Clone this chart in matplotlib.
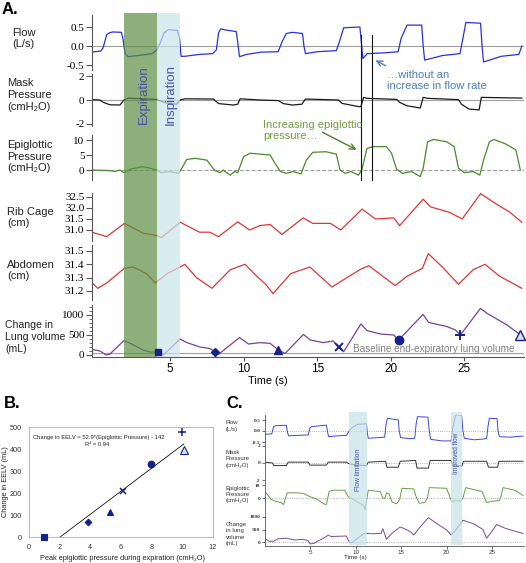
import matplotlib
matplotlib.use('Agg')
import matplotlib.pyplot as plt

# ---------------- DATA ----------------
# Panel A (time in s)
flow_t = [-0.3, 0.3, 0.45, 0.7, 0.9, 1.1, 1.7, 1.8, 1.95, 2.15, 3.0, 3.8, 4.1, 4.3, 4.6, 4.9, 5.5, 5.65, 5.75, 6.0, 7.0, 7.9,
          8.15, 8.3, 8.45, 8.8, 9.5, 9.6, 9.72, 10.2, 11.2, 12.35, 12.6, 12.9, 13.3, 14.0, 14.1, 14.2, 15.0, 16.3, 16.5,
          16.8, 17.9, 18.0, 18.1, 18.4, 19.5, 20.5, 20.7, 21.1, 22.1, 22.2, 22.3, 23.5, 24.7, 24.9, 25.1, 26.1, 26.2,
          26.3, 27.5, 28.7, 28.9]
flow_v = [-0.16, -0.13, -0.05, 0.3, 0.35, 0.37, 0.36, 0.2, -0.2, -0.28, -0.24, -0.2, -0.1, 0.05, 0.35, 0.43, 0.41, 0.2,
          -0.27, -0.27, -0.22, -0.2, -0.1, 0.35, 0.45, 0.42, 0.38, 0.1, -0.28, -0.22, -0.16, -0.15, 0.1, 0.33, 0.36, 0.33,
          0.0, -0.2, -0.15, -0.12, 0.1, 0.48, 0.5, 0.1, -0.33, -0.2, -0.18, -0.15, 0.2, 0.55, 0.55, 0.0, -0.37, -0.25,
          -0.2, 0.2, 0.62, 0.6, 0.0, -0.42, -0.27, -0.22, 0.0]
mask_t = [-0.3, 0.24, 0.47, 0.92, 1.6, 1.87, 2.16, 4.1, 4.27, 4.77, 5.45, 5.68, 6.0, 7.95, 8.3, 9.3, 9.6, 9.76, 11.12,
          12.37, 12.7, 13.3, 13.96, 14.2, 16.45, 16.68, 17.8, 17.97, 18.15, 18.38, 20.4, 20.6, 21.1, 22.0, 22.2, 22.5,
          24.6, 24.8, 25.3, 26.0, 26.15, 27.0, 28.9]
mask_v = [0.03, 0.0, -0.2, -0.4, -0.42, 0.0, 0.15, 0.05, -0.05, -0.25, -0.35, 0.0, 0.1, 0.08, -0.3, -0.42, -0.35, 0.1,
          0.0, -0.05, -0.3, -0.42, -0.35, 0.08, 0.0, -0.28, -0.55, -0.55, 0.22, 0.14, 0.05, -0.2, -0.48, -0.67, 0.22,
          0.14, 0.03, -0.35, -0.75, -0.83, 0.22, 0.2, 0.16]
epi_t = [-0.3, 0.92, 1.25, 1.6, 1.87, 2.28, 3.07, 3.4, 4.1, 4.4, 5.0, 5.57, 5.79, 6.13, 6.7, 7.5, 7.84, 8.06, 8.4, 8.6,
         9.08, 9.4, 9.6, 9.99, 10.44, 11.12, 11.8, 12.14, 12.5, 12.9, 13.36, 13.9, 14.26, 14.7, 15.6, 16.3, 16.55,
         16.9, 17.3, 17.8, 18.03, 18.38, 18.8, 19.7, 20.05, 20.4, 20.8, 21.4, 22.0, 22.2, 22.5, 22.9, 23.8, 24.3,
         24.6, 25.0, 25.6, 26.05, 26.3, 26.7, 27.0, 27.8, 28.5, 28.8]
epi_v = [0.0, -0.2, -0.5, 0.0, -0.9, 0.2, 1.1, 0.9, 0.0, -0.9, -0.5, -1.1, 0.5, 3.5, 3.9, 3.3, 1.1, -0.2, -0.9, 0.0,
         -1.7, -0.5, -0.9, 4.4, 5.6, 5.3, 5.0, 2.2, -0.5, -1.1, -0.5, -1.3, 3.3, 5.9, 6.1, 5.3, 0.0, -1.1, -0.5, -1.7,
         0.0, 7.2, 7.8, 7.8, 5.6, 0.2, -1.1, -0.5, -2.2, 0.6, 9.4, 10.2, 9.4, 7.8, 0.6, -0.9, -0.5, -1.7, 3.3, 9.4,
         10.2, 8.7, 6.7, 0.0]
rib_t = [-0.3, 0.7, 1.9, 3.2, 4.1, 4.4, 5.7, 7.0, 7.7, 8.3, 9.6, 10.4, 11.1, 11.8, 12.6, 14.05, 14.7, 15.9, 16.6,
         18.05, 18.95, 20.2, 20.6, 22.2, 22.7, 24.0, 24.85, 26.1, 27.0, 28.1, 28.9]
rib_v = [30.9, 30.7, 31.3, 30.85, 30.75, 30.65, 31.35, 30.9, 30.9, 30.7, 31.37, 31.0, 31.2, 31.25, 30.8, 31.55, 31.3,
         31.3, 31.0, 31.95, 31.5, 31.55, 31.2, 32.4, 32.05, 31.8, 31.5, 32.65, 32.25, 31.8, 31.35]
abd_t = [-0.3, 0.1, 0.7, 1.9, 2.5, 3.4, 4.0, 4.8, 5.7, 6.0, 6.8, 7.85, 9.1, 10.1, 10.9, 11.5, 12.0, 13.2, 14.5, 16.0,
         17.9, 18.5, 20.3, 21.1, 22.15, 22.55, 23.5, 24.6, 25.6, 26.4, 27.4, 28.9]
abd_v = [31.26, 31.22, 31.26, 31.37, 31.38, 31.33, 31.26, 31.33, 31.38, 31.4, 31.3, 31.22, 31.36, 31.4, 31.31, 31.25,
         31.18, 31.33, 31.38, 31.23, 31.36, 31.39, 31.24, 31.31, 31.37, 31.48, 31.38, 31.25, 31.36, 31.4, 31.31, 31.22]
lung_t = [-0.3, 0.24, 0.65, 0.92, 1.87, 2.4, 3.17, 3.63, 4.2, 4.55, 5.68, 6.14, 7.04, 7.72, 8.06, 8.29, 9.72, 10.33,
          11.12, 11.8, 12.37, 12.82, 14.07, 14.52, 15.43, 16.1, 16.45, 16.8, 17.97, 18.38, 19.3, 20.2, 20.53, 22.19,
          22.57, 23.82, 24.39, 24.73, 26.09, 26.55, 27.9, 28.81]
lung_v = [140, 100, 0, 25, 360, 275, 125, 75, 75, 0, 400, 310, 200, 160, 85, 15, 435, 275, 310, 290, 125, 40, 515, 375,
          310, 350, 190, 85, 775, 610, 525, 500, 375, 1015, 815, 710, 625, 500, 1165, 1040, 750, 500]
marker_t = [4.2, 8.06, 12.37, 16.45, 20.53, 24.73, 28.81]
marker_v = [75, 85, 125, 190, 375, 500, 500]
baseline_v = 40
expiration_span = (1.87, 4.1)
inspiration_span = (4.1, 5.7)
cursor_t = [18.0, 18.74]

# Panel B
b_x = [1.0, 3.87, 5.3, 6.1, 7.93, 10.0, 10.1]
b_y = [0, 68, 114, 209, 332, 477, 395]
trend_x = [2.03, 10.1]
trend_y = [0, 423]

# Panel C
c_flow_t = [0.0, 0.8, 1.0, 1.2, 2.4, 2.55, 2.65, 3.5, 4.8, 5.0, 5.2, 6.8, 6.95, 7.05, 8.0, 9.0, 9.3, 9.6, 10.2, 11.2,
            11.3, 11.4, 12.5, 13.2, 13.35, 13.5, 14.7, 14.8, 14.95, 16.0, 16.5, 16.65, 16.8, 17.95, 18.1, 18.25, 19.5,
            20.5, 20.7, 21.0, 21.65, 21.8, 21.95, 23.0, 24.4, 24.55, 24.7, 25.55, 25.65, 25.8, 27.0, 28.4]
c_flow_v = [-0.15, -0.13, 0.2, 0.24, 0.26, -0.1, -0.22, -0.2, -0.18, 0.15, 0.2, 0.27, -0.1, -0.26, -0.22, -0.2, 0.0,
            0.15, 0.3, 0.33, -0.1, -0.33, -0.3, -0.28, 0.3, 0.58, 0.5, 0.0, -0.3, -0.35, -0.33, 0.3, 0.65, 0.63, 0.0,
            -0.38, -0.45, -0.45, 0.2, 0.73, 0.72, 0.0, -0.33, -0.4, -0.35, 0.2, 0.58, 0.56, 0.0, -0.26, -0.28, -0.23]
c_mask_t = [0.0, 0.9, 1.0, 2.4, 2.6, 4.8, 5.0, 6.8, 7.0, 9.0, 9.3, 10.2, 11.2, 11.4, 13.3, 13.45, 14.7, 14.9, 16.6,
            16.75, 18.0, 18.2, 20.5, 20.7, 21.7, 21.85, 24.4, 24.6, 25.6, 25.75, 28.4]
c_mask_v = [0.1, 0.0, -0.3, -0.3, 0.1, 0.1, -0.25, -0.25, 0.1, 0.1, -0.1, -0.25, -0.3, 0.1, 0.2, -0.5, -0.5, 0.2, 0.3,
            -0.6, -0.6, 0.3, 0.3, -0.3, -0.35, 0.2, 0.2, -0.5, -0.5, 0.2, 0.2]
c_epi_t = [0.0, 0.3, 0.7, 1.2, 1.8, 2.1, 2.3, 2.5, 3.5, 4.3, 5.0, 5.8, 6.5, 6.8, 6.95, 7.1, 7.5, 8.8, 9.2, 10.1, 10.9,
           11.05, 11.2, 11.4, 12.0, 12.7, 13.0, 13.2, 13.4, 13.7, 14.0, 14.5, 14.85, 15.1, 16.4, 16.6, 17.0, 17.6,
           17.9, 18.1, 20.0, 20.4, 20.6, 21.0, 21.5, 21.8, 22.1, 23.9, 24.2, 24.4, 25.0, 25.8, 26.0, 26.2, 27.5, 28.4]
c_epi_v = [4.5, 3, -1, -2.5, -3.5, -5, 0, 4, 4, 3.5, 1, -1, -4.5, -5, 0, 5, 6, 6, 1, -2.5, -6, -9, -2, 6, 5.5, 5, 0,
           -0.5, 4, 3, -3, -4.5, -1, 7.5, 7, 2, -4, -3.5, 0, 8, 7.5, 0, -3, -2, -2.5, 0, 8, 5, 0, -3.5, -2.5, -2, 2, 8,
           6, 2]
c_lung_t = [0.0, 0.5, 1.0, 1.5, 2.4, 3.3, 4.2, 4.8, 5.0, 5.4, 6.8, 7.0, 7.3, 8.2, 9.0, 9.3, 9.6, 10.9, 11.3, 12.0,
            12.8, 13.0, 13.4, 14.0, 14.9, 15.2, 16.0, 16.4, 17.0, 18.0, 19.0, 20.0, 20.5, 21.0, 21.8, 23.0, 24.0,
            24.4, 25.0, 25.5, 26.5, 28.4]
c_lung_v = [150, 30, 30, 130, 150, 80, 110, 50, -75, -60, 220, 280, 220, 230, 240, 0, -30, 340, 340, 330, 350, 530,
            110, 350, 600, 560, 420, 280, 560, 975, 720, 480, 280, 480, 870, 720, 500, 150, 440, 700, 540, 340]
flow_limitation_span = (9.32, 11.3)
improved_flow_span = (20.53, 21.7)

# ---------------- FIGURE ----------------
W, H = 526, 563
plt.rcParams['font.family'] = ['Liberation Sans', 'DejaVu Sans']
fig = plt.figure(figsize=(W / 100, H / 100), dpi=100)


def ax_px(x0, y0, x1, y1):
    return fig.add_axes([x0 / W, 1 - y1 / H, (x1 - x0) / W, (y1 - y0) / H])


def ftext(x, y, s, **kw):
    return fig.text(x / W, 1 - y / H, s, **kw)


SERIF = ['Liberation Serif', 'DejaVu Serif']
SPINE = '#555555'
NAVY = '#15218a'

# ---------- Panel A ----------
A_X0, A_X1 = 92, 524
A_XLIM = (-0.3, 29.05)
a_panels = [
    dict(y=(15, 70), ylim=(-0.63, 0.816), ticks=[-0.5, 0, 0.5], tl=['-0.5', '0.0', '0.5'],
         t=flow_t, v=flow_v, c='#2633d8', ref=0, ls='-'),
    dict(y=(74, 126), ylim=(-2.17, 2.17), ticks=[-2, 0, 2], tl=['-2', '0', '2'],
         t=mask_t, v=mask_v, c='#1a1a1a', ref=0, ls='-'),
    dict(y=(135, 180), ylim=(-3.33, 11.67), ticks=[0, 5, 10], tl=['0', '5', '10'],
         t=epi_t, v=epi_v, c='#4a8a2c', ref=0, ls='--'),
    dict(y=(193, 241), ylim=(30.5, 32.68), ticks=[31.0, 31.5, 32.0, 32.5], tl=['31.0', '31.5', '32.0', '32.5'],
         t=rib_t, v=rib_v, c='#e03535', ref=None, ls='-'),
    dict(y=(245, 300), ylim=(31.132, 31.545), ticks=[31.2, 31.3, 31.4, 31.5], tl=['31.2', '31.3', '31.4', '31.5'],
         t=abd_t, v=abd_v, c='#e03535', ref=None, ls='-'),
    dict(y=(305, 357), ylim=(-50, 1250), ticks=[0, 500, 1000], tl=['0', '500', '1000'],
         t=lung_t, v=lung_v, c='#7b3f9c', ref=baseline_v, ls='-'),
]
a_axes = []
for i, p in enumerate(a_panels):
    ax = ax_px(A_X0, p['y'][0], A_X1, p['y'][1])
    ax.set_facecolor('none')
    ax.set_xlim(*A_XLIM)
    ax.set_ylim(*p['ylim'])
    if p['ref'] is not None:
        ax.axhline(p['ref'], color='#a0a0a0', lw=0.8, ls=p['ls'], zorder=1)
    ax.plot(p['t'], p['v'], color=p['c'], lw=0.9, zorder=2)
    for s in ['top', 'right']:
        ax.spines[s].set_visible(False)
    ax.spines['left'].set_color(SPINE)
    ax.spines['left'].set_linewidth(0.8)
    ax.set_yticks(p['ticks'])
    ax.set_yticklabels(p['tl'], family=SERIF, fontsize=8)
    ax.tick_params(axis='y', length=4, width=0.8, color=SPINE, pad=1.5)
    if i < len(a_panels) - 1:
        ax.spines['bottom'].set_visible(False)
        ax.set_xticks([])
    else:
        ax.spines['bottom'].set_color(SPINE)
        ax.spines['bottom'].set_linewidth(0.8)
        ax.set_xticks([5, 10, 15, 20, 25])
        ax.tick_params(axis='x', length=3, width=0.8, color=SPINE, labelsize=8.5, pad=1)
        ax.set_yticks(range(0, 1300, 100), minor=True)
        ax.tick_params(axis='y', which='minor', length=2, width=0.6, color=SPINE)
    a_axes.append(ax)

# overlay for shaded bands / cursors
ov = ax_px(A_X0, 13, A_X1, 357)
ov.set_xlim(*A_XLIM)
ov.set_ylim(0, 1)
ov.axis('off')
ov.axvspan(*expiration_span, color='#5c8e44', alpha=0.7, lw=0, zorder=1)
ov.axvspan(*inspiration_span, color='#cae4ea', alpha=0.7, lw=0, zorder=1)
ov.text(3.2, 0.762, 'Expiration', rotation=90, ha='center', va='center',
        fontsize=9.5, color='#4d4da8', zorder=3)
ov.text(5.05, 0.762, 'Inspiration', rotation=90, ha='center', va='center',
        fontsize=9.5, color='#4d4da8', zorder=3)
for ct in cursor_t:
    ov.axvline(ct, ymin=0.515, ymax=0.936, color='#111111', lw=0.8, zorder=3)

# markers on the lung volume trace (drawn above the shaded bands)
lung_ax = a_axes[-1]
mk_ax = ax_px(A_X0, 305, A_X1, 357)
mk_ax.set_xlim(*A_XLIM)
mk_ax.set_ylim(*lung_ax.get_ylim())
mk_ax.axis('off')
styles = [('s', 5, NAVY), ('D', 4.2, NAVY), ('^', 5.5, NAVY), ('x', 6, NAVY), ('o', 6, NAVY), ('+', 7, NAVY),
          ('^', 6.5, '#dde3f3')]
for (mk, ms, fc), tt, vv in zip(styles, marker_t, marker_v):
    mk_ax.plot([tt], [vv], marker=mk, ms=ms, mfc=fc, mec=NAVY, mew=1.4 if mk in 'x+' else 1.0,
               ls='none', zorder=5, clip_on=False)

# annotations
ov.annotate('', xy=(373, H - 59), xycoords='figure pixels', xytext=(388, H - 67), textcoords='figure pixels',
            arrowprops=dict(arrowstyle='->', color='#4f81bd', lw=1.0))
ftext(387, 80.5, '\u2026without an\nincrease in flow rate', fontsize=8, color='#4a7ebb', ha='left', va='center',
      linespacing=1.15)
ov.annotate('', xy=(359, H - 151), xycoords='figure pixels', xytext=(320, H - 131), textcoords='figure pixels',
            arrowprops=dict(arrowstyle='->', color='#4f7f2a', lw=1.0))
ftext(263, 130.5, 'Increasing epiglottic\npressure\u2026', fontsize=8, color='#70a03e', ha='left', va='center',
      linespacing=1.15)
ftext(353, 349, 'Baseline end-expiratory lung volume', fontsize=7.2, color='#808080', ha='left', va='center')
ftext(268, 381, 'Time (s)', fontsize=7.8, ha='center', va='center')

# left labels
lab_kw = dict(fontsize=8, ha='left', va='center', linespacing=1.2, color='#222222')
ftext(12, 38.5, 'Flow\n(L/s)', **lab_kw)
ftext(7, 95, 'Mask\nPressure\n(cmH\u2082O)', **lab_kw)
ftext(7, 156.5, 'Epiglottic\nPressure\n(cmH\u2082O)', **lab_kw)
ftext(7, 217.5, 'Rib Cage\n(cm)', **lab_kw)
ftext(7, 270.5, 'Abdomen\n(cm)', **lab_kw)
ftext(5, 337.5, 'Change in\nLung volume\n(mL)', fontsize=7.6, ha='left', va='center', linespacing=1.25,
      color='#222222')
ftext(2, 9, 'A.', fontsize=12, fontweight='bold', ha='left', va='center')

# ---------- Panel B ----------
bx = ax_px(29, 427, 213, 537)
bx.set_xlim(0, 12)
bx.set_ylim(0, 500)
for s in bx.spines.values():
    s.set_color('#bdbdbd')
    s.set_linewidth(0.8)
bx.set_xticks(range(0, 13, 2))
bx.set_yticks(range(0, 501, 100))
bx.tick_params(length=0, labelsize=5.3, labelcolor='#333333', pad=5)
bx.plot(trend_x, trend_y, color='#111111', lw=0.6, zorder=2)
for (mk, ms, fc), xx, yy in zip(styles, b_x, b_y):
    bx.plot([xx], [yy], marker=mk, ms=ms * 0.8, mfc=fc, mec=NAVY, mew=1.1 if mk in 'x+' else 0.8,
            ls='none', zorder=5, clip_on=False)
ftext(33, 438, 'Change in EELV = 52.9*(Epiglottic Pressure) - 142', fontsize=4.2, ha='left', va='center',
      color='#222222')
ftext(97, 444.5, 'R\u00b2 = 0.94', fontsize=4.2, ha='center', va='center', color='#222222')
ftext(6, 482, 'Change in EELV (mL)', fontsize=5.3, rotation=90, ha='center', va='center', color='#222222')
ftext(122, 558, 'Peak epiglottic pressure during expiration (cmH\u2082O)', fontsize=5.3, ha='center',
      va='center', color='#222222')
ftext(4, 403, 'B.', fontsize=12, fontweight='bold', ha='left', va='center')

# ---------- Panel C ----------
C_X0, C_X1 = 264.5, 523.5
C_XLIM = (0, 28.45)
c_panels = [
    dict(y=(414.5, 442), ylim=(-0.5, 0.75), ticks=[-0.5, 0, 0.5], tl=['-0.5', '0.0', '0.5'],
         t=c_flow_t, v=c_flow_v, c='#3a49d6'),
    dict(y=(443, 480), ylim=(-2.0, 2.35), ticks=[-2, 0, 2], tl=['-2', '0', '2'],
         t=c_mask_t, v=c_mask_v, c='#333333'),
    dict(y=(481, 514), ylim=(-12.3, 13.1), ticks=[0, 10], tl=['0', '10'],
         t=c_epi_t, v=c_epi_v, c='#6a9c48'),
    dict(y=(515, 546), ylim=(-160, 1080), ticks=[0, 500, 1000], tl=['0', '500', '1000'],
         t=c_lung_t, v=c_lung_v, c='#7b4a9b'),
]
for i, p in enumerate(c_panels):
    ax = ax_px(C_X0, p['y'][0], C_X1, p['y'][1])
    ax.set_facecolor('none')
    ax.set_xlim(*C_XLIM)
    ax.set_ylim(*p['ylim'])
    ax.axhline(0, color='#9a9a9a', lw=0.6, ls=':', zorder=1)
    ax.plot(p['t'], p['v'], color=p['c'], lw=0.7, zorder=2)
    for s in ['top', 'right']:
        ax.spines[s].set_visible(False)
    ax.spines['left'].set_color(SPINE)
    ax.spines['left'].set_linewidth(0.6)
    ax.set_yticks(p['ticks'])
    ax.set_yticklabels(p['tl'], family=SERIF, fontsize=3.9, fontweight='bold')
    ax.tick_params(axis='y', length=2, width=0.6, color=SPINE, pad=1, labelcolor='#333333')
    if i < len(c_panels) - 1:
        ax.spines['bottom'].set_visible(False)
        ax.set_xticks([])
    else:
        ax.spines['bottom'].set_color(SPINE)
        ax.spines['bottom'].set_linewidth(0.6)
        ax.set_xticks([5, 10, 15, 20, 25])
        ax.tick_params(axis='x', length=2, width=0.6, color=SPINE, labelsize=4.5, pad=1, labelcolor='#333333')

cov = ax_px(C_X0, 412, C_X1, 545)
cov.set_xlim(*C_XLIM)
cov.set_ylim(0, 1)
cov.axis('off')
cov.axvspan(*flow_limitation_span, color='#c6e2e8', alpha=0.7, lw=0)
cov.axvspan(*improved_flow_span, color='#c6e2e8', alpha=0.7, lw=0)
cov.text(sum(flow_limitation_span) / 2, (545 - 470) / 133, 'Flow limitation', rotation=90, ha='center',
         va='center', fontsize=4.8, color='#4d4da8')
cov.text(sum(improved_flow_span) / 2, (545 - 453) / 133, 'Improved flow', rotation=90, ha='center',
         va='center', fontsize=4.8, color='#4d4da8')

clab = dict(fontsize=4.3, ha='left', va='center', linespacing=1.3, color='#333333')
ftext(226, 426, 'Flow\n(L/s)', **clab)
ftext(226, 459, 'Mask\nPressure\n(cmH\u2082O)', **clab)
ftext(226, 494.5, 'Epiglottic\nPressure\n(cmH\u2082O)', **clab)
ftext(226, 534, 'Change\nin lung\nvolume\n(mL)', **clab)
ftext(355, 557.5, 'Time (s)', fontsize=4.5, ha='center', va='center', color='#333333')
ftext(226, 403, 'C.', fontsize=12, fontweight='bold', ha='left', va='center')

fig.savefig('out.png', dpi=100)
